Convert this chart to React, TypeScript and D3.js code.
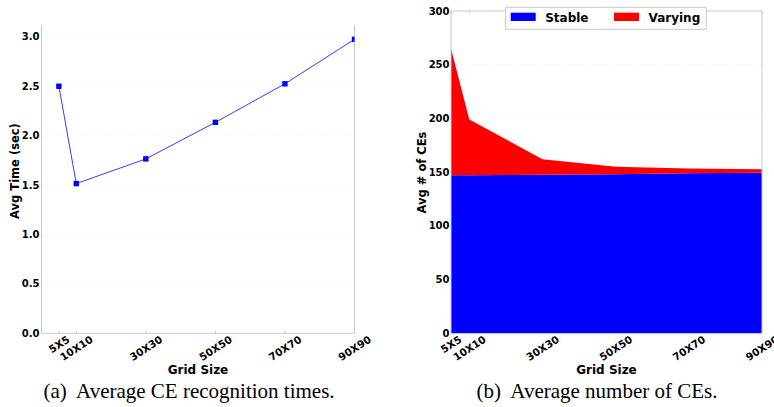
import React, { useEffect, useRef } from "react";
import * as d3 from "d3";

const gridSizes = [5, 10, 30, 50, 70, 90];
const gridLabels = ["5X5", "10X10", "30X30", "50X50", "70X70", "90X90"];
const avgTime = [2.5, 1.515, 1.765, 2.135, 2.525, 2.975];
const stableCEs = [147, 147, 147.5, 148, 149, 149.5];
const varyingCEs = [118, 52, 14.5, 7, 4.5, 3.3];
const timeTicks = [0, 0.5, 1.0, 1.5, 2.0, 2.5, 3.0];
const ceTicks = [0, 50, 100, 150, 200, 250, 300];
const seriesNames = ["Stable", "Varying"];
const seriesColors = ["#0000ff", "#ff0000"];

const W = 774;
const H = 407;
const FONT = "'DejaVu Sans', sans-serif";
const SERIF = "'Liberation Serif', 'Times New Roman', serif";

export default function App() {
  const ref = useRef<SVGSVGElement | null>(null);

  useEffect(() => {
    const svg = d3.select(ref.current!);
    svg.selectAll("*").remove();

    const drawXLabels = (g: any, x: (v: number) => number, yTop: number) => {
      const angle = 33;
      const rad = (angle * Math.PI) / 180;
      gridSizes.forEach((v, i) => {
        const t = g
          .append("text")
          .attr("font-family", FONT)
          .attr("font-weight", "bold")
          .attr("font-size", 10.3)
          .attr("text-anchor", "middle")
          .attr("dominant-baseline", "central")
          .text(gridLabels[i]);
        const w = (t.node() as SVGTextElement).getComputedTextLength();
        const fh = 7.5;
        const h = w * Math.sin(rad) + fh * Math.cos(rad);
        t.attr("transform", `translate(${x(v)},${yTop + h / 2}) rotate(${-angle})`);
      });
    };

    // ---------- Chart (a) ----------
    const aL = 41.5, aR = 354.5, aT = 25, aB = 333.3;
    const xa = d3.scaleLinear().domain([0, 90]).range([aL, aR]);
    const ya = d3.scaleLinear().domain([0, 3.12]).range([aB, aT]);
    const ga = svg.append("g");

    ga.selectAll("line.grid")
      .data(timeTicks.slice(1))
      .enter()
      .append("line")
      .attr("x1", aL)
      .attr("x2", aR)
      .attr("y1", (d) => ya(d))
      .attr("y2", (d) => ya(d))
      .attr("stroke", "#e8e8e8")
      .attr("stroke-width", 0.8)
      .attr("stroke-dasharray", "1,2");

    ga.append("line").attr("x1", aL).attr("x2", aL).attr("y1", aT).attr("y2", aB).attr("stroke", "#c8c8c8");
    ga.append("line").attr("x1", aR).attr("x2", aR).attr("y1", aT).attr("y2", aB).attr("stroke", "#c8c8c8");
    ga.append("line").attr("x1", aL).attr("x2", aR).attr("y1", aB).attr("y2", aB).attr("stroke", "#c8c8c8");
    gridSizes.forEach((v) => {
      ga.append("line").attr("x1", xa(v)).attr("x2", xa(v)).attr("y1", aB).attr("y2", aB - 3).attr("stroke", "#c8c8c8");
    });

    svg
      .append("defs")
      .append("clipPath")
      .attr("id", "clipA")
      .append("rect")
      .attr("x", aL)
      .attr("y", aT - 5)
      .attr("width", aR - aL)
      .attr("height", aB - aT + 5);

    const line = d3
      .line<number>()
      .x((_, i) => xa(gridSizes[i]))
      .y((d) => ya(d));
    const gl = ga.append("g").attr("clip-path", "url(#clipA)");
    gl.append("path")
      .attr("d", line(avgTime)!)
      .attr("fill", "none")
      .attr("stroke", "#3a3aff")
      .attr("stroke-width", 1);
    gl.selectAll("rect.mk")
      .data(avgTime)
      .enter()
      .append("rect")
      .attr("x", (_, i) => xa(gridSizes[i]) - 2.7)
      .attr("y", (d) => ya(d) - 2.7)
      .attr("width", 5.4)
      .attr("height", 5.4)
      .attr("fill", "#0000ff");

    ga.selectAll("text.yt")
      .data(timeTicks)
      .enter()
      .append("text")
      .attr("x", aL - 2)
      .attr("y", (d) => ya(d))
      .attr("dy", "0.35em")
      .attr("text-anchor", "end")
      .attr("font-family", FONT)
      .attr("font-weight", "bold")
      .attr("font-size", 10)
      .text((d) => d.toFixed(1));

    drawXLabels(ga, xa, aB + 1.5);

    ga.append("text")
      .attr("x", (aL + aR) / 2)
      .attr("y", 374)
      .attr("text-anchor", "middle")
      .attr("font-family", FONT)
      .attr("font-weight", "bold")
      .attr("font-size", 12)
      .text("Grid Size");

    ga.append("text")
      .attr("transform", `translate(19,171) rotate(-90)`)
      .attr("text-anchor", "middle")
      .attr("font-family", FONT)
      .attr("font-weight", "bold")
      .attr("font-size", 11.5)
      .text("Avg Time (sec)");

    ga.append("text")
      .attr("x", 189)
      .attr("y", 398)
      .attr("text-anchor", "middle")
      .attr("font-family", SERIF)
      .attr("font-size", 21)
      .style("white-space", "pre")
      .text("(a)  Average CE recognition times.");

    // ---------- Chart (b) ----------
    const bL = 451, bR = 762, bT = 11, bB = 333.3;
    const xb = d3.scaleLinear().domain([5, 90]).range([bL, bR]);
    const yb = d3.scaleLinear().domain([0, 300]).range([bB, bT]);
    const gb = svg.append("g");

    gb.selectAll("line.grid")
      .data(ceTicks.slice(1, -1))
      .enter()
      .append("line")
      .attr("x1", bL)
      .attr("x2", bR)
      .attr("y1", (d) => yb(d))
      .attr("y2", (d) => yb(d))
      .attr("stroke", "#e8e8e8")
      .attr("stroke-width", 0.8)
      .attr("stroke-dasharray", "1,2");

    const table = gridSizes.map((g, i) => ({ g, Stable: stableCEs[i], Varying: varyingCEs[i] }));
    const stack = d3.stack<any>().keys(seriesNames)(table);
    const area = d3
      .area<any>()
      .x((d) => xb(d.data.g))
      .y0((d) => yb(d[0]))
      .y1((d) => yb(d[1]));
    stack.forEach((s, i) => {
      gb.append("path").attr("d", area(s)!).attr("fill", seriesColors[i]).attr("stroke", "none");
    });

    gb.append("line").attr("x1", bL).attr("x2", bL).attr("y1", bT).attr("y2", bB).attr("stroke", "#c8c8c8");
    gb.append("line").attr("x1", bR).attr("x2", bR).attr("y1", bT).attr("y2", bB).attr("stroke", "#c8c8c8");
    gb.append("line").attr("x1", bL).attr("x2", bR).attr("y1", bT).attr("y2", bT).attr("stroke", "#c8c8c8");
    gridSizes.forEach((v) => {
      gb.append("line").attr("x1", xb(v)).attr("x2", xb(v)).attr("y1", bT).attr("y2", bT + 3).attr("stroke", "#c8c8c8");
    });

    gb.selectAll("text.yt")
      .data(ceTicks)
      .enter()
      .append("text")
      .attr("x", bL - 1.5)
      .attr("y", (d) => yb(d))
      .attr("dy", "0.35em")
      .attr("text-anchor", "end")
      .attr("font-family", FONT)
      .attr("font-weight", "bold")
      .attr("font-size", 10)
      .text((d) => String(d));

    drawXLabels(gb, xb, bB + 1.5);

    gb.append("text")
      .attr("x", (bL + bR) / 2)
      .attr("y", 374)
      .attr("text-anchor", "middle")
      .attr("font-family", FONT)
      .attr("font-weight", "bold")
      .attr("font-size", 12)
      .text("Grid Size");

    gb.append("text")
      .attr("transform", `translate(426,172.5) rotate(-90)`)
      .attr("text-anchor", "middle")
      .attr("font-family", FONT)
      .attr("font-weight", "bold")
      .attr("font-size", 11.5)
      .text("Avg # of CEs");

    const lg = gb.append("g");
    lg.append("rect")
      .attr("x", 505.7)
      .attr("y", 7.3)
      .attr("width", 200.5)
      .attr("height", 22)
      .attr("fill", "#ffffff")
      .attr("stroke", "#c8c8c8");
    const legX = [510.7, 614];
    seriesNames.forEach((n, i) => {
      lg.append("rect")
        .attr("x", legX[i])
        .attr("y", 12.7)
        .attr("width", 25)
        .attr("height", 8.3)
        .attr("fill", seriesColors[i]);
      lg.append("text")
        .attr("x", legX[i] + 34.5)
        .attr("y", 21.5)
        .attr("font-family", FONT)
        .attr("font-weight", "bold")
        .attr("font-size", 12)
        .text(n);
    });

    gb.append("text")
      .attr("x", 597)
      .attr("y", 398)
      .attr("text-anchor", "middle")
      .attr("font-family", SERIF)
      .attr("font-size", 21)
      .style("white-space", "pre")
      .text("(b)  Average number of CEs.");
  }, []);

  return (
    <svg
      ref={ref}
      width={W}
      height={H}
      style={{ position: "absolute", left: 0, top: 0, background: "#fff" }}
    />
  );
}
